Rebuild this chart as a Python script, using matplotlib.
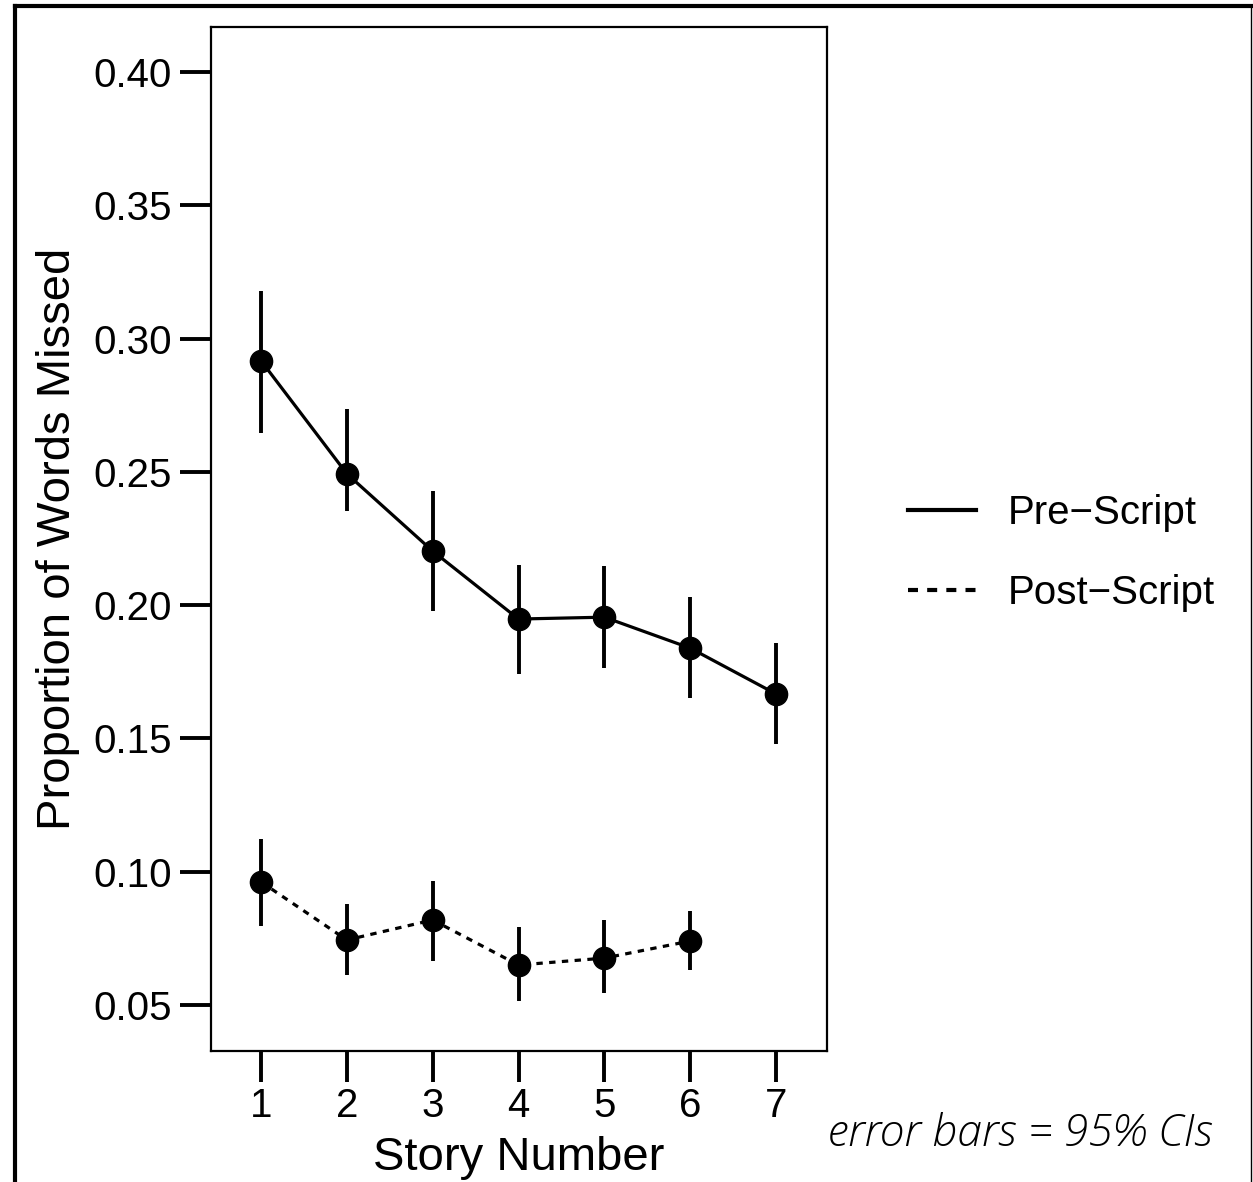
import matplotlib
matplotlib.use("Agg")
import matplotlib.pyplot as plt
from matplotlib.lines import Line2D

story = [1, 2, 3, 4, 5, 6, 7]
pre_mean = [0.2917, 0.2493, 0.2203, 0.1948, 0.1955, 0.1839, 0.1667]
pre_lo = [0.2647, 0.2354, 0.1977, 0.1741, 0.1764, 0.1651, 0.1479]
pre_hi = [0.3180, 0.2736, 0.2428, 0.2150, 0.2146, 0.2030, 0.1857]

post_story = [1, 2, 3, 4, 5, 6]
post_mean = [0.0962, 0.0744, 0.0819, 0.0650, 0.0676, 0.0740]
post_lo = [0.0797, 0.0613, 0.0665, 0.0515, 0.0545, 0.0631]
post_hi = [0.1123, 0.0879, 0.0965, 0.0793, 0.0819, 0.0853]

yticks = [0.05, 0.10, 0.15, 0.20, 0.25, 0.30, 0.35, 0.40]
ytick_labels = ["0.05", "0.10", "0.15", "0.20", "0.25", "0.30", "0.35", "0.40"]

plt.rcParams['font.family'] = ['Liberation Sans', 'DejaVu Sans']

W, H = 1253, 1182
fig = plt.figure(figsize=(W / 100, H / 100), dpi=100)
ax = fig.add_axes([211 / W, 1 - 1051 / H, 616 / W, 1024 / H])

def errs(m, lo, hi):
    return [[a - b for a, b in zip(m, lo)], [c - a for a, c in zip(m, hi)]]

ax.errorbar(story, pre_mean, yerr=errs(pre_mean, pre_lo, pre_hi), fmt='none',
            ecolor='black', elinewidth=2.8, capsize=0)
ax.errorbar(post_story, post_mean, yerr=errs(post_mean, post_lo, post_hi), fmt='none',
            ecolor='black', elinewidth=2.8, capsize=0)
ax.plot(story, pre_mean, color='black', lw=2.3, ls='-', marker='o', ms=16, label='Pre\u2212Script')
ax.plot(post_story, post_mean, color='black', lw=2.3, ls=(0, (2.0, 2.0)), marker='o', ms=16,
        label='Post\u2212Script')

ax.set_xlim(0.4175, 7.594)
ax.set_ylim(0.03275, 0.4169)
ax.set_xticks(story)
ax.set_xticklabels([str(s) for s in story])
ax.set_yticks(yticks)
ax.set_yticklabels(ytick_labels)
ax.tick_params(axis='both', direction='out', length=22, width=2.8, labelsize=29, pad=6)
ax.tick_params(axis='x', pad=4)
for s in ax.spines.values():
    s.set_linewidth(1.6)
ax.set_xlabel('Story Number', fontsize=34, labelpad=8)
ax.set_ylabel('Proportion of Words Missed', fontsize=34, labelpad=10)

h = [Line2D([0], [0], color='black', lw=3, ls='-'),
     Line2D([0], [0], color='black', lw=3, ls=(0, (2.4, 2.2)))]
fig.legend(h, ['Pre\u2212Script', 'Post\u2212Script'], loc='center left',
           bbox_to_anchor=(872 / W, 1 - 553 / H), frameon=False, fontsize=29,
           handlelength=1.67, handletextpad=0.8, labelspacing=1.05)

fig.text(828 / W, 1 - 1134 / H, 'error bars = 95% CIs', fontsize=32, style='italic',
         family=['Open Sans', 'DejaVu Sans'], fontweight='light', va='center', ha='left')

# outer frame
fig.add_artist(Line2D([15 / W, 15 / W], [0, 1 - 6 / H], transform=fig.transFigure, color='black', lw=3))
fig.add_artist(Line2D([15 / W, 1251 / W], [1 - 6 / H, 1 - 6 / H], transform=fig.transFigure, color='black', lw=3))
fig.add_artist(Line2D([1251 / W, 1251 / W], [0, 1 - 6 / H], transform=fig.transFigure, color='black', lw=1))

fig.savefig('out.png', dpi=100)
